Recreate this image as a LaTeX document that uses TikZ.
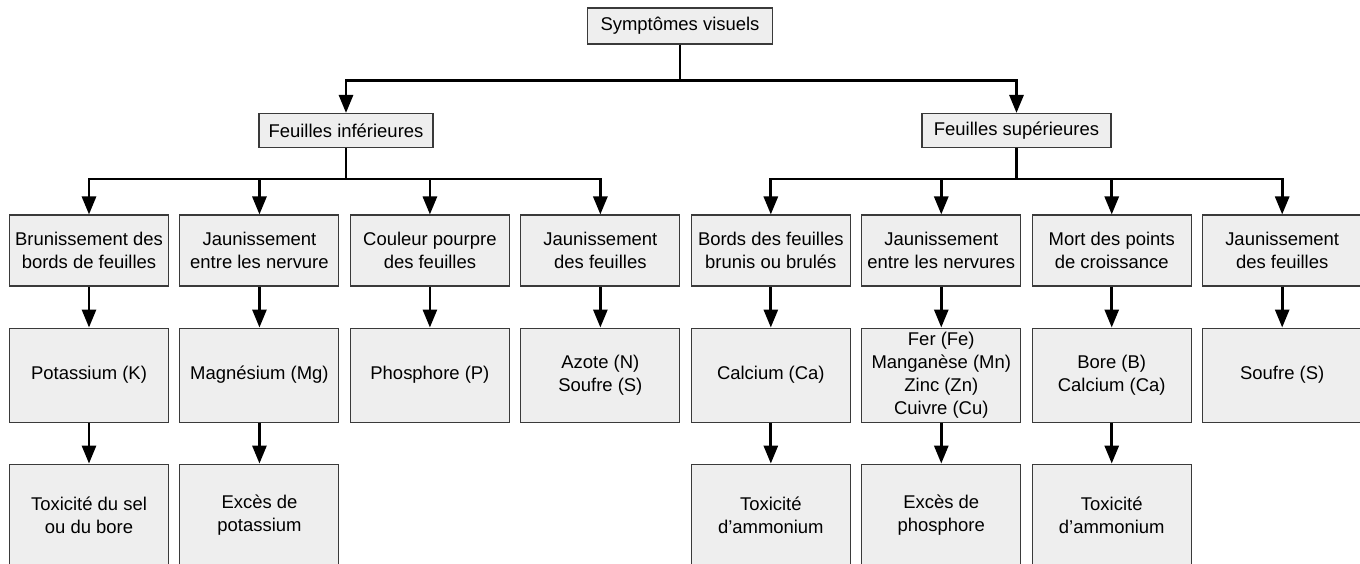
\documentclass[tikz,border=0pt]{standalone}
\usepackage{fontspec}
\setmainfont{Liberation Sans}
\usetikzlibrary{arrows.meta, positioning}
\definecolor{boxgray}{HTML}{EEEEEE}
\definecolor{edgegray}{HTML}{3A3A3A}

\begin{document}
\begin{tikzpicture}[
        box/.style={draw=edgegray, line width=0.6pt, fill=boxgray, align=center,
                    font=\fontsize{10.5}{13}\selectfont, inner xsep=0.05cm, inner ysep=1pt},
        head/.style={box, minimum height=0.68cm},
        symptom/.style={box, minimum width=3.18cm, minimum height=1.42cm},
        nutrient/.style={box, minimum width=3.18cm, minimum height=1.88cm},
        excess/.style={box, minimum width=3.18cm, minimum height=2.04cm},
        arrow/.style={-{Triangle[length=0.36cm, width=0.28cm]}, line width=1.6pt},
        node distance=0.82cm and 0.208cm,
    ]
        \useasboundingbox (0,0) rectangle (27.2,-11.26);
        \clip (0,0) rectangle (27.2,-11.26);

        \node[head, minimum width=3.7cm, minimum height=0.72cm] (top) at (13.6,-0.52) {Symptômes visuels};
        \node[head, minimum width=3.48cm] (inf) at (6.92,-2.61) {Feuilles inférieures};
        \node[head, minimum width=3.78cm] (sup) at (20.33,-2.61) {Feuilles supérieures};

        % symptomes
        \node[symptom] (brun) at (1.78,-5.01) {Brunissement des\\bords de feuilles};
        \node[symptom, right=of brun] (jaunA) {Jaunissement\\entre les nervure};
        \node[symptom, right=of jaunA] (pourpre) {Couleur pourpre\\des feuilles};
        \node[symptom, right=of pourpre] (jaunB) {Jaunissement\\des feuilles};
        \node[symptom, right=of jaunB] (bords) {Bords des feuilles\\brunis ou brulés};
        \node[symptom, right=of bords] (jaunC) {Jaunissement\\entre les nervures};
        \node[symptom, right=of jaunC] (mort) {Mort des points\\de croissance};
        \node[symptom, right=of mort] (jaunD) {Jaunissement\\des feuilles};

        % carences
        \node[nutrient, below=of brun] (potassium) {Potassium (K)};
        \node[nutrient, below=of jaunA] (magnesium) {Magnésium (Mg)};
        \node[nutrient, below=of pourpre] (phosphore) {Phosphore (P)};
        \node[nutrient, below=of jaunB] (azote) {Azote (N)\\Soufre (S)};
        \node[nutrient, below=of bords] (calcium) {Calcium (Ca)};
        \node[nutrient, below=of jaunC] (fer) {Fer (Fe)\\Manganèse (Mn)\\Zinc (Zn)\\Cuivre (Cu)};
        \node[nutrient, below=of mort] (bore) {Bore (B)\\Calcium (Ca)};
        \node[nutrient, below=of jaunD] (soufre) {Soufre (S)};

        % exces
        \node[excess, below=of potassium] (toxsel) {Toxicité du sel\\ou du bore};
        \node[excess, below=of magnesium] (excpot) {Excès de\\potassium};
        \node[excess, below=of calcium] (toxamm) {Toxicité\\d’ammonium};
        \node[excess, below=of fer] (excphos) {Excès de\\phosphore};
        \node[excess, below=of bore] (toxammB) {Toxicité\\d’ammonium};

        \draw[arrow] (top.south) -- ++(0,-0.72) -| (inf.north);
        \draw[arrow] (top.south) -- ++(0,-0.72) -| (sup.north);

        \draw[arrow] (inf.south) -- ++(0,-0.62) -| (brun.north);
        \draw[arrow] (inf.south) -- ++(0,-0.62) -| (jaunA.north);
        \draw[arrow] (inf.south) -- ++(0,-0.62) -| (pourpre.north);
        \draw[arrow] (inf.south) -- ++(0,-0.62) -| (jaunB.north);
        \draw[arrow] (sup.south) -- ++(0,-0.62) -| (bords.north);
        \draw[arrow] (sup.south) -- ++(0,-0.62) -| (jaunC.north);
        \draw[arrow] (sup.south) -- ++(0,-0.62) -| (mort.north);
        \draw[arrow] (sup.south) -- ++(0,-0.62) -| (jaunD.north);

        \draw[arrow] (brun) -- (potassium);
        \draw[arrow] (jaunA) -- (magnesium);
        \draw[arrow] (pourpre) -- (phosphore);
        \draw[arrow] (jaunB) -- (azote);
        \draw[arrow] (bords) -- (calcium);
        \draw[arrow] (jaunC) -- (fer);
        \draw[arrow] (mort) -- (bore);
        \draw[arrow] (jaunD) -- (soufre);

        \draw[arrow] (potassium) -- (toxsel);
        \draw[arrow] (magnesium) -- (excpot);
        \draw[arrow] (calcium) -- (toxamm);
        \draw[arrow] (fer) -- (excphos);
        \draw[arrow] (bore) -- (toxammB);
    \end{tikzpicture}
\end{document}
